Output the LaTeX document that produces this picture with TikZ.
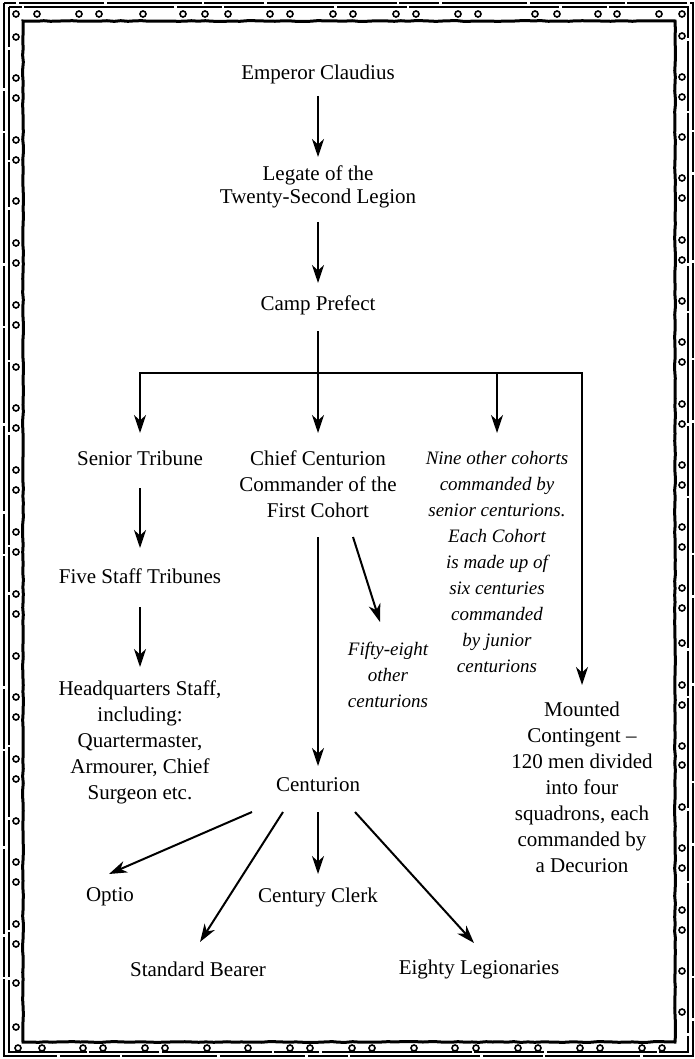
\documentclass[tikz,border=0pt]{standalone}
\usepackage{fontspec}
\setmainfont{Liberation Serif}
\usetikzlibrary{arrows.meta,decorations.pathmorphing}
\begin{document}
\begin{tikzpicture}[x=1pt,y=-1pt,
  lbl/.style={font=\fontsize{21}{26}\selectfont, align=center, inner sep=0pt},
  itl/.style={font=\fontsize{19}{26}\selectfont\itshape, align=center, inner sep=0pt},
  arr/.style={line width=2pt, -{Stealth[length=18pt,width=12pt,inset=5.5pt]}},
  conn/.style={line width=2pt},
  ring/.style={line width=1.6pt},
  frame/.style={line width=3pt, line join=miter, decorate, decoration={random steps, segment length=7pt, amplitude=0.4pt}},
  outer/.style={line width=1.4pt}
]
\useasboundingbox (0,0) rectangle (695,1059);

% ---------- border ----------
\draw[frame] (23,21) -- (675,21) -- (675,1042) -- (23,1042) -- cycle;
\draw[outer, dash pattern=on 85pt off 3pt on 40pt off 2pt on 130pt off 3pt on 60pt off 2pt on 95pt off 3pt]
  (4,3) rectangle (693,1056);
\draw[outer, dash pattern=on 70pt off 3pt on 110pt off 2pt on 45pt off 3pt on 150pt off 2pt, dash phase=30pt]
  (9,7) rectangle (688,1052);
\foreach \x in {16,37,79,99,143,183,205,228,270,290,333,353,396,416,458,478,535,557,598,617,659,682}
  \draw[ring] (\x,14) circle[radius=3pt];
\foreach \x in {18,42,83,103,145,165,207,248,290,310,352,372,414,455,476,518,538,580,600,642,662}
  \draw[ring] (\x,1048) circle[radius=3pt];
\foreach \y in {37,78,98,140,160,201,243,263,305,325,367,408,428,470,490,532,552,594,614,656,697,717,759,779,821,862,882,924,944,983,1027}
  \draw[ring] (16,\y) circle[radius=3pt];
\foreach \y in {36,77,97,137,178,198,240,260,301,342,362,404,424,465,485,527,547,588,608,643,685,705,746,765,807,848,868,910,930,971,1012}
  \draw[ring] (682,\y) circle[radius=3pt];

% ---------- nodes ----------
\node[lbl] (emp) at (318,74) {Emperor Claudius};
\node[lbl, font=\fontsize{21}{23}\selectfont] (leg) at (318,187) {Legate of the\\Twenty-Second Legion};
\node[lbl] (camp) at (318,305) {Camp Prefect};
\node[lbl] (sen) at (140,458) {Senior Tribune};
\node[lbl] (chief) at (318,484) {Chief Centurion\\Commander of the\\First Cohort};
\node[itl] (nine) at (497,562) {Nine other cohorts\\commanded by\\senior centurions.\\Each Cohort\\is made up of\\six centuries\\commanded\\by junior\\centurions};
\node[lbl] (five) at (140,576) {Five Staff Tribunes};
\node[lbl] (hq) at (140,742) {Headquarters Staff,\\including:\\Quartermaster,\\Armourer, Chief\\Surgeon etc.};
\node[itl] (fifty) at (388,675) {Fifty-eight\\other\\centurions};
\node[lbl] (mount) at (582,787) {Mounted\\Contingent --\\120 men divided\\into four\\squadrons, each\\commanded by\\a Decurion};
\node[lbl] (cent) at (318,785) {Centurion};
\node[lbl] (optio) at (110,897) {Optio};
\node[lbl] (clerk) at (318,897) {Century Clerk};
\node[lbl] (sb) at (198,969) {Standard Bearer};
\node[lbl] (eighty) at (479,969) {Eighty Legionaries};

% ---------- connectors ----------
\coordinate (bar) at (318,373);
\draw[arr] ([shift={(0,22)}]emp.center) -- ([shift={(0,-30)}]leg.center);
\draw[arr] ([shift={(0,35)}]leg.center) -- ([shift={(0,-22)}]camp.center);
\draw[conn] ([shift={(0,26)}]camp.center) -- (bar);
\draw[conn, line cap=rect] (bar -| sen) -- (bar -| mount);
\draw[arr] (bar -| sen) -- ([shift={(0,-25)}]sen.center);
\draw[arr] (bar -| chief) -- ([shift={(0,-51)}]chief.center);
\draw[arr] (bar -| nine) -- ([shift={(0,-129)}]nine.center);
\draw[arr] (bar -| mount) -- ([shift={(0,-102)}]mount.center);
\draw[arr] ([shift={(0,30)}]sen.center) -- ([shift={(0,-28)}]five.center);
\draw[arr] ([shift={(0,31)}]five.center) -- ([shift={(0,-75)}]hq.center);
\draw[arr] ([shift={(0,53)}]chief.center) -- ([shift={(0,-19)}]cent.center);
\draw[arr] ([shift={(35,53)}]chief.center) -- ([shift={(-8,-53)}]fifty.center);
\draw[arr] ([shift={(-66,27)}]cent.center) -- ([shift={(-1,-23)}]optio.center);
\draw[arr] ([shift={(-35,27)}]cent.center) -- ([shift={(2,-27)}]sb.center);
\draw[arr] ([shift={(0,27)}]cent.center) -- ([shift={(0,-23)}]clerk.center);
\draw[arr] ([shift={(37,27)}]cent.center) -- ([shift={(-5,-26)}]eighty.center);
\end{tikzpicture}
\end{document}
